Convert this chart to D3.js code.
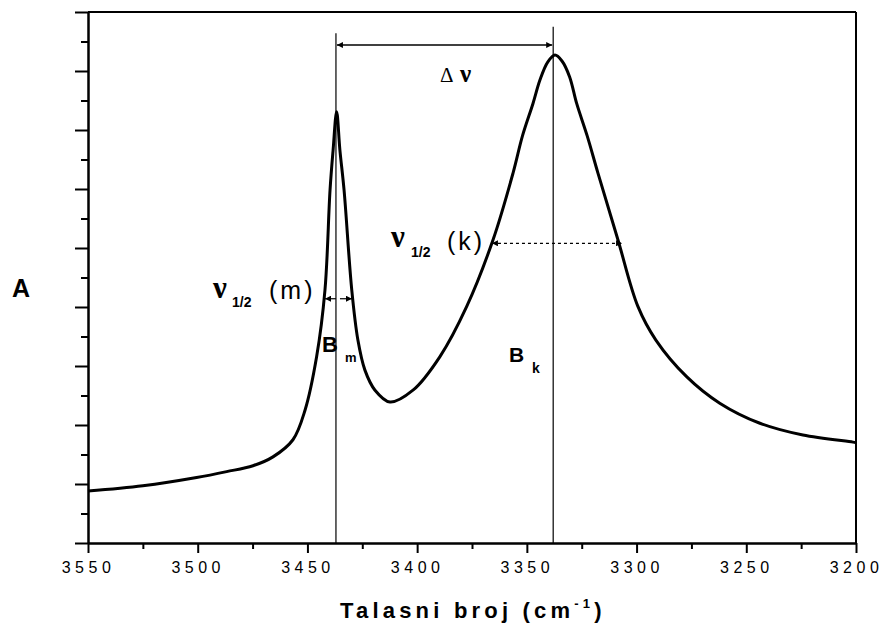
<!DOCTYPE html>
<html><head><meta charset="utf-8">
<script src="https://cdn.jsdelivr.net/npm/d3@7"></script>
<style>body{margin:0;background:#fff}svg{display:block}</style>
</head><body>
<script>
// Data: wavenumber (cm^-1) and absorbance (arbitrary units)
const wavenumber = [3550,3525,3500.5,3486.8,3474.8,3465.7,3456.6,3451.1,3445.8,3442.0,3439.7,3438.3,3436.7,3435.2,3433.3,3429.8,3427.0,3423.8,3419.2,3412.4,3401.9,3389.6,3377.4,3365.4,3356.3,3352,3347.2,3344,3340.5,3337.2,3334,3330.5,3327.3,3322.5,3317.6,3308.5,3299.4,3291.2,3277.2,3262.1,3243.8,3224.2,3201.4,3200];
const absorbance = [0.88,0.97,1.11,1.21,1.31,1.46,1.75,2.25,3.16,4.29,5.98,6.66,7.31,6.66,5.98,4.29,3.44,2.93,2.59,2.39,2.59,3.16,4.01,5.14,6.27,6.90,7.45,7.85,8.15,8.27,8.17,7.90,7.45,6.90,6.27,5.14,4.01,3.44,2.82,2.37,2.03,1.83,1.71,1.70];
const xMajorTicks = [3550,3500,3450,3400,3350,3300,3250,3200];
const xMinorTicks = [3525,3475,3425,3375,3325,3275,3225];
const yMajorTicks = [0,1,2,3,4,5,6,7,8,9];
const yMinorTicks = [0.5,1.5,2.5,3.5,4.5,5.5,6.5,7.5,8.5];
const bandM = 3437, bandK = 3338;
const halfM = [3442.0, 3429.7], halfMLevel = 4.14;
const halfK = [3365.9, 3306.6], halfKLevel = 5.08;
const deltaLevel = 8.44;

const W = 882, H = 626;
const svg = d3.select("body").append("svg").attr("width", W).attr("height", H);
const x = d3.scaleLinear().domain([3550,3200]).range([88,856]);
const y = d3.scaleLinear().domain([0,9]).range([543,12]);

const defs = svg.append("defs");
defs.append("marker").attr("id","ah").attr("viewBox","0 0 10 10").attr("refX",10).attr("refY",5)
  .attr("markerWidth",7).attr("markerHeight",6).attr("markerUnits","userSpaceOnUse").attr("orient","auto-start-reverse")
  .append("path").attr("d","M0,0 L10,5 L0,10 z").attr("fill","#000");

// axes
function styleAxis(g){ g.select(".domain").attr("stroke","#000").attr("stroke-width",2); g.selectAll(".tick line").attr("stroke","#000").attr("stroke-width",2); }
const xAx = svg.append("g").attr("transform","translate(0,543)")
  .call(d3.axisBottom(x).tickValues(xMajorTicks).tickSize(10).tickSizeOuter(0).tickFormat(d3.format("d")));
styleAxis(xAx);
xAx.selectAll(".tick text").attr("y",19).attr("dy","0.71em").attr("font-family","Arial, 'Liberation Sans', sans-serif")
  .attr("font-size",16).attr("fill","#000").style("letter-spacing","4.5px");
const xMin = svg.append("g").attr("transform","translate(0,543)")
  .call(d3.axisBottom(x).tickValues(xMinorTicks).tickSize(6).tickSizeOuter(0).tickFormat(""));
styleAxis(xMin);
const yAx = svg.append("g").attr("transform","translate(88,0)")
  .call(d3.axisLeft(y).tickValues(yMajorTicks).tickSize(13).tickSizeOuter(0).tickFormat(""));
styleAxis(yAx);
const yMin = svg.append("g").attr("transform","translate(88,0)")
  .call(d3.axisLeft(y).tickValues(yMinorTicks).tickSize(7).tickSizeOuter(0).tickFormat(""));
styleAxis(yMin);
// top & right frame
svg.append("line").attr("x1",x(3550)).attr("x2",x(3200)).attr("y1",y(9)).attr("y2",y(9)).attr("stroke","#000").attr("stroke-width",2);
svg.append("line").attr("x1",x(3200)).attr("x2",x(3200)).attr("y1",y(9)).attr("y2",y(0)).attr("stroke","#000").attr("stroke-width",2);

// band lines
svg.append("line").attr("x1",x(bandM)).attr("x2",x(bandM)).attr("y1",y(8.64)).attr("y2",y(0)).attr("stroke","#000").attr("stroke-width",1.2);
svg.append("line").attr("x1",x(bandK)).attr("x2",x(bandK)).attr("y1",y(8.75)).attr("y2",y(0)).attr("stroke","#000").attr("stroke-width",1.2);

// curve
const pts = wavenumber.map((w,i)=>[w,absorbance[i]]);
svg.append("path").datum(pts)
  .attr("d", d3.line().x(d=>x(d[0])).y(d=>y(d[1])).curve(d3.curveCatmullRom.alpha(0.5)))
  .attr("fill","none").attr("stroke","#000").attr("stroke-width",3).attr("stroke-linejoin","round");

// delta arrow
svg.append("line").attr("x1",x(bandM)+1).attr("x2",x(bandK)-1).attr("y1",y(deltaLevel)).attr("y2",y(deltaLevel))
  .attr("stroke","#000").attr("stroke-width",1.5).attr("marker-start","url(#ah)").attr("marker-end","url(#ah)");
// half width m arrows
svg.append("line").attr("x1",x(bandM)).attr("x2",x(halfM[0])).attr("y1",y(halfMLevel)).attr("y2",y(halfMLevel))
  .attr("stroke","#000").attr("stroke-width",1.2).attr("marker-end","url(#ah)");
svg.append("line").attr("x1",x(bandM)+4).attr("x2",x(halfM[1])).attr("y1",y(halfMLevel)).attr("y2",y(halfMLevel))
  .attr("stroke","#000").attr("stroke-width",1.2).attr("marker-end","url(#ah)");
// half width k dotted arrow
svg.append("line").attr("x1",x(halfK[0])).attr("x2",x(halfK[1])).attr("y1",y(halfKLevel)).attr("y2",y(halfKLevel))
  .attr("stroke","#000").attr("stroke-width",1.3).attr("stroke-dasharray","3,3")
  .attr("marker-start","url(#ah)").attr("marker-end","url(#ah)");

// texts
const sans = "Arial, 'Liberation Sans', sans-serif", serif = "'Liberation Serif', 'DejaVu Serif', serif";
function txt(t, xx, yy, size, opts={}){
  const e = svg.append("text").attr("x",xx).attr("y",yy).attr("font-size",size)
    .attr("font-family",opts.family||sans).attr("font-weight",opts.bold?"bold":"normal").attr("fill","#000").text(t);
  if(opts.ls) e.style("letter-spacing",opts.ls);
  if(opts.anchor) e.attr("text-anchor",opts.anchor);
  return e;
}
txt("A", 12, 297, 25, {bold:true});
txt("Δ", 440, 82, 21, {family:serif});
txt("ν", 460, 82, 25, {family:serif, bold:true});
// v1/2 (m)
txt("ν", 213, 298, 31, {family:serif, bold:true});
txt("1/2", 232, 307, 14, {bold:true});
txt("(m)", 269, 299, 25, {ls:"3px"});
// v1/2 (k)
txt("ν", 391, 247, 31, {family:serif, bold:true});
txt("1/2", 411, 257, 14, {bold:true});
txt("(k)", 447, 250, 25, {ls:"3px"});
// B labels
txt("B", 322, 352, 22, {bold:true});
txt("m", 345, 362, 13, {bold:true});
txt("B", 509, 362, 21, {bold:true});
txt("k", 532, 373, 14, {bold:true});
// x title
const tt = svg.append("text").attr("x",340).attr("y",618).attr("font-family",sans).attr("font-size",22)
  .attr("font-weight","bold").attr("fill","#000").style("letter-spacing","4.2px");
tt.append("tspan").text("Talasni broj (cm");
tt.append("tspan").attr("font-size",13).attr("dy",-10).text("-1");
tt.append("tspan").attr("dy",10).text(")");
</script>
</body></html>
